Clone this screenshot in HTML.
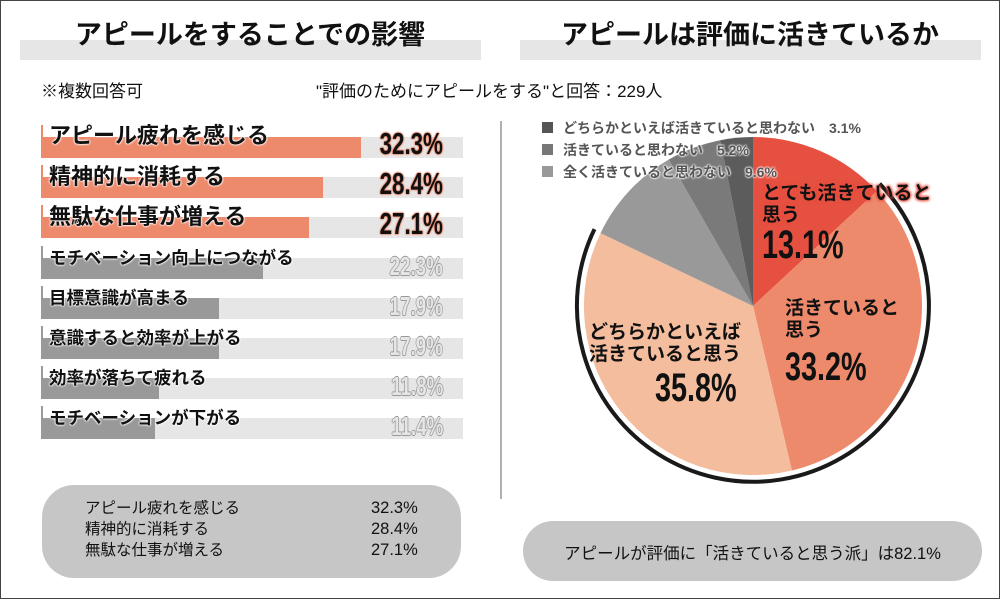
<!DOCTYPE html>
<html><head><meta charset="utf-8"><style>
body{margin:0;background:#fff;}
#c{position:relative;width:998px;height:597px;border:1px solid #444;overflow:hidden;font-family:"Liberation Sans","Noto Sans CJK JP",sans-serif;color:#111;}
.a{position:absolute;white-space:nowrap;}
.band{position:absolute;background:#e6e6e6;height:20px;top:39px;}
.title{position:absolute;top:12px;font-size:27px;font-weight:bold;width:460px;text-align:center;}
.bg{position:absolute;left:40px;width:422px;height:21px;background:#e6e6e6;}
.fo{position:absolute;left:40px;height:21px;background:#ee8a6c;}
.fg{position:absolute;left:40px;height:21px;background:#999;}
.tick{position:absolute;left:40px;width:2px;background:#ee8a6c;}
.lb{position:absolute;left:48px;font-weight:bold;white-space:nowrap;text-shadow:0 0 2px #fff,0 0 2px #fff,0 0 2px #fff;}
.pc{position:absolute;right:556px;font-weight:bold;transform:scaleX(.72);transform-origin:right;white-space:nowrap;}
.po{font-size:31px;color:#111;text-shadow:0 0 2px #ee8a6c,0 0 2px #ee8a6c,0 0 2px #ee8a6c,0 0 2px #ee8a6c;}
.pg{font-size:26px;color:#e6e6e6;text-shadow:1px 0 #999,-1px 0 #999,0 1px #999,0 -1px #999;}
.lg{position:absolute;left:562px;font-size:14px;font-weight:bold;color:#555;text-shadow:0 0 2px #fff,0 0 2px #fff,0 0 2px #fff;white-space:nowrap;}
.sq{position:absolute;left:541px;width:11px;height:11px;}
.pl{font-size:19px;font-weight:bold;line-height:22px;}
</style></head><body><div id="c">
<div class="band" style="left:19px;width:461px"></div>
<div class="band" style="left:519px;width:461px"></div>
<div class="title" style="left:19px">アピールをすることでの影響</div>
<div class="title" style="left:519px">アピールは評価に活きているか</div>
<div class="a" style="left:40px;top:76px;font-size:17px">※複数回答可</div>
<div class="a" style="left:315px;top:76px;font-size:17px">"評価のためにアピールをする"と回答：229人</div>
<div class="a" style="left:499px;top:120px;width:2px;height:378px;background:#b0b0b0"></div>

<div class="bg" style="top:136px"></div><div class="fo" style="top:136px;width:320px"></div><div class="tick" style="top:124px;height:14px"></div>
<div class="lb" style="top:117px;font-size:22px">アピール疲れを感じる</div><div class="pc po" style="top:125px">32.3%</div>
<div class="bg" style="top:176px"></div><div class="fo" style="top:176px;width:282px"></div><div class="tick" style="top:164px;height:14px"></div>
<div class="lb" style="top:158px;font-size:22px">精神的に消耗する</div><div class="pc po" style="top:165px">28.4%</div>
<div class="bg" style="top:216px"></div><div class="fo" style="top:216px;width:268px"></div><div class="tick" style="top:204px;height:14px"></div>
<div class="lb" style="top:198px;font-size:22px">無駄な仕事が増える</div><div class="pc po" style="top:205px">27.1%</div>

<div class="bg" style="top:257px"></div><div class="fg" style="top:257px;width:222px"></div><div class="tick" style="top:245px;height:14px;background:#999"></div>
<div class="lb" style="top:244px;font-size:17.5px">モチベーション向上につながる</div><div class="pc pg" style="top:250px">22.3%</div>
<div class="bg" style="top:297px"></div><div class="fg" style="top:297px;width:178px"></div><div class="tick" style="top:285px;height:14px;background:#999"></div>
<div class="lb" style="top:284px;font-size:17.5px">目標意識が高まる</div><div class="pc pg" style="top:290px">17.9%</div>
<div class="bg" style="top:337px"></div><div class="fg" style="top:337px;width:178px"></div><div class="tick" style="top:325px;height:14px;background:#999"></div>
<div class="lb" style="top:324px;font-size:17.5px">意識すると効率が上がる</div><div class="pc pg" style="top:330px">17.9%</div>
<div class="bg" style="top:377px"></div><div class="fg" style="top:377px;width:118px"></div><div class="tick" style="top:365px;height:14px;background:#999"></div>
<div class="lb" style="top:364px;font-size:17.5px">効率が落ちて疲れる</div><div class="pc pg" style="top:370px">11.8%</div>
<div class="bg" style="top:417px"></div><div class="fg" style="top:417px;width:114px"></div><div class="tick" style="top:405px;height:14px;background:#999"></div>
<div class="lb" style="top:404px;font-size:17.5px">モチベーションが下がる</div><div class="pc pg" style="top:410px">11.4%</div>

<div class="a" style="left:41px;top:484px;width:419px;height:93px;background:#c6c6c6;border-radius:32px"></div>
<div class="a" style="left:84px;top:497px;font-size:15.5px;line-height:21px">アピール疲れを感じる<br>精神的に消耗する<br>無駄な仕事が増える</div>
<div class="a" style="left:370px;top:497px;font-size:16.5px;line-height:21px">32.3%<br>28.4%<br>27.1%</div>

<div class="a" style="left:522px;top:520px;width:459px;height:60px;background:#c6c6c6;border-radius:30px"></div>
<div class="a" style="left:522px;top:539px;width:459px;text-align:center;font-size:16.5px">アピールが評価に「活きていると思う派」は82.1%</div>

<svg class="a" style="left:0;top:0" width="1000" height="599">
<path d="M752,305 L752,136 A169,169 0 0 1 875.9,190.1Z" fill="#e65040"/>
<path d="M752,305 L875.9,190.1 A169,169 0 0 1 790.9,469.5Z" fill="#ee8a6c"/>
<path d="M752,305 L790.9,469.5 A169,169 0 0 1 599.5,232.1Z" fill="#f4bd9e"/>
<path d="M752,305 L599.5,232.1 A169,169 0 0 1 667.8,158.5Z" fill="#999"/>
<path d="M752,305 L667.8,158.5 A169,169 0 0 1 719.3,139.2Z" fill="#7a7a7a"/>
<path d="M752,305 L719.3,139.2 A169,169 0 0 1 752,136Z" fill="#5c5c5c"/>
<path d="M878.6,182.6 A176,176 0 1 1 593.5,228.1" fill="none" stroke="#1a1a1a" stroke-width="4"/>
</svg>

<div class="sq" style="top:121px;background:#555"></div><div class="lg" style="top:117px">どちらかといえば活きていると思わない　3.1%</div>
<div class="sq" style="top:143px;background:#777"></div><div class="lg" style="top:139px">活きていると思わない　5.2%</div>
<div class="sq" style="top:165px;background:#999"></div><div class="lg" style="top:161px">全く活きていると思わない　9.6%</div>

<div class="a pl" style="left:761px;top:182px;text-shadow:0 0 3px #e65040,0 0 3px #e65040,0 0 3px #e65040">とても活きていると<br>思う</div>
<div class="a" style="left:761px;top:222px;font-size:40px;font-weight:bold;transform:scaleX(.72);transform-origin:left">13.1%</div>
<div class="a pl" style="left:784px;top:297px">活きていると<br>思う</div>
<div class="a" style="left:784px;top:344px;font-size:40px;font-weight:bold;transform:scaleX(.72);transform-origin:left">33.2%</div>
<div class="a pl" style="left:560px;top:321px;width:180px;text-align:right">どちらかといえば<br>活きていると思う</div>
<div class="a" style="left:654px;top:365px;font-size:40px;font-weight:bold;transform:scaleX(.72);transform-origin:left">35.8%</div>
</div></body></html>
